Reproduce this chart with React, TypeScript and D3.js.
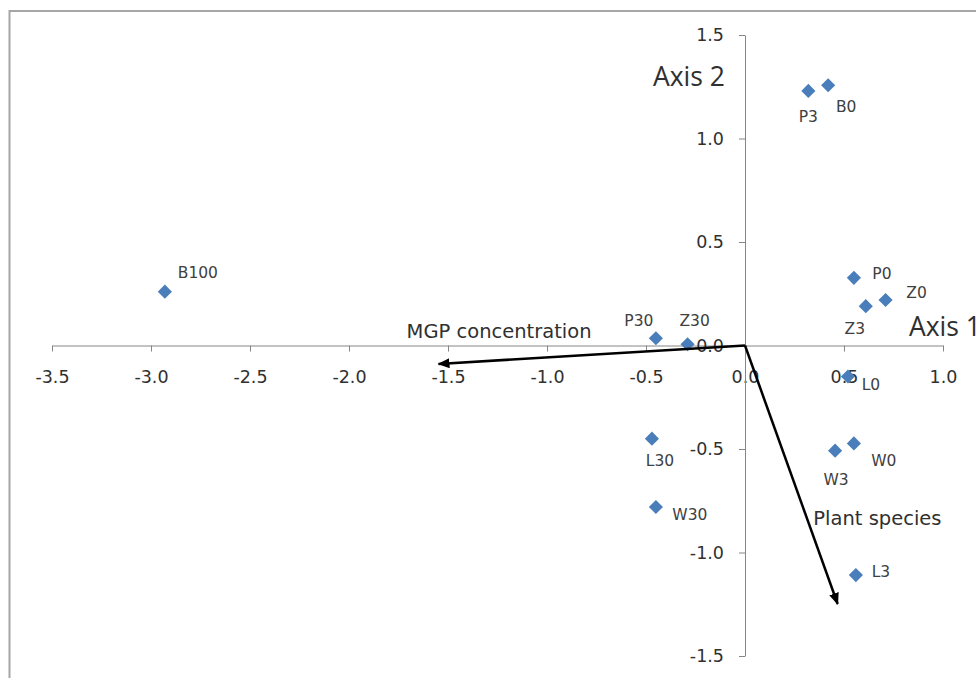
import React, { useEffect, useRef } from 'react';
import * as d3 from 'd3';

// ordination scores
const sampleNames = ['P3', 'B0', 'P0', 'Z0', 'Z3', 'P30', 'Z30', 'L0', 'L30', 'W30', 'W3', 'W0', 'L3', 'B100'];
const axis1Scores = [0.32, 0.42, 0.55, 0.71, 0.61, -0.45, -0.29, 0.52, -0.47, -0.45, 0.455, 0.55, 0.56, -2.93];
const axis2Scores = [1.23, 1.257, 0.327, 0.22, 0.19, 0.035, 0.006, -0.15, -0.45, -0.78, -0.508, -0.473, -1.109, 0.26];

// label offsets in px (label centre relative to marker)
const labelDx = [0, 18, 28, 31, -11, -17, 7, 23, 8, 34, 1, 30, 25, 33];
const labelDy = [26, 21, -4, -8, 22, -18, -24, 8, 22, 7, 29, 17, -4, -19];

// environmental vectors
const vectorNames = ['MGP concentration', 'Plant species'];
const vectorX = [-1.548, 0.468];
const vectorY = [-0.089, -1.249];

const xTicks = [-3.5, -3.0, -2.5, -2.0, -1.5, -1.0, -0.5, 0.0, 0.5, 1.0];
const yTicks = [-1.5, -1.0, -0.5, 0.0, 0.5, 1.0, 1.5];

const width = 976;
const height = 678;

function App() {
  const ref = useRef<SVGSVGElement>(null);

  useEffect(() => {
    const svg = d3.select(ref.current);
    svg.selectAll('*').remove();

    const x = d3.scaleLinear().domain([-3.5, 1.0]).range([52, 943]);
    const y = d3.scaleLinear().domain([-1.5, 1.5]).range([656, 35]);

    svg.append('rect')
      .attr('x', 9.5)
      .attr('y', 11)
      .attr('width', 1100)
      .attr('height', 1000)
      .attr('fill', '#fff')
      .attr('stroke', '#a6a6a6')
      .attr('stroke-width', 2);

    // plain hyphen for negatives, like the original
    const fmt = (d: d3.NumberValue) => (+d).toFixed(1);

    // x axis through the origin
    svg.append('g')
      .attr('transform', `translate(0,${y(0)})`)
      .call(d3.axisBottom(x).tickValues(xTicks).tickFormat(fmt).tickSize(6).tickPadding(19).tickSizeOuter(0))
      .call(g => g.select('.domain').attr('stroke', '#868686'))
      .call(g => g.selectAll('.tick line').attr('stroke', '#868686'))
      .call(g => g.selectAll('.tick text')
        .attr('fill', '#303030')
        .style('font-family', '"DejaVu Sans", Verdana, sans-serif')
        .style('font-size', '17.5px'));

    // y axis through the origin
    svg.append('g')
      .attr('transform', `translate(${x(0)},0)`)
      .call(d3.axisLeft(y).tickValues(yTicks).tickFormat(fmt).tickSize(6).tickPadding(15).tickSizeOuter(0))
      .call(g => g.select('.domain').attr('stroke', '#868686'))
      .call(g => g.selectAll('.tick line').attr('stroke', '#868686'))
      .call(g => g.selectAll('.tick text')
        .attr('fill', '#303030')
        .style('font-family', '"DejaVu Sans", Verdana, sans-serif')
        .style('font-size', '17.5px'));

    const pts = sampleNames.map((name, i) => ({ name, a1: axis1Scores[i], a2: axis2Scores[i], dx: labelDx[i], dy: labelDy[i] }));

    const diamond = d3.symbol().type(d3.symbolSquare).size(100)();

    svg.append('g')
      .selectAll('path')
      .data(pts)
      .join('path')
      .attr('d', diamond)
      .attr('transform', d => `translate(${x(d.a1)},${y(d.a2)}) rotate(45)`)
      .attr('fill', '#4a7ebb');

    svg.append('g')
      .selectAll('text')
      .data(pts)
      .join('text')
      .attr('x', d => x(d.a1) + d.dx)
      .attr('y', d => y(d.a2) + d.dy)
      .attr('dy', '0.36em')
      .attr('text-anchor', 'middle')
      .attr('fill', '#404040')
      .style('font-family', '"DejaVu Sans", Verdana, sans-serif')
      .style('font-size', '15.5px')
      .text(d => d.name);

    // arrows
    svg.append('defs')
      .append('marker')
      .attr('id', 'arrowhead')
      .attr('markerUnits', 'userSpaceOnUse')
      .attr('viewBox', '0 0 12 10')
      .attr('refX', 11)
      .attr('refY', 5)
      .attr('markerWidth', 12)
      .attr('markerHeight', 10)
      .attr('orient', 'auto')
      .append('path')
      .attr('d', 'M0,0 L12,5 L0,10 Z')
      .attr('fill', '#000');

    const vecs = vectorNames.map((name, i) => ({ name, vx: vectorX[i], vy: vectorY[i] }));

    svg.append('g')
      .selectAll('line')
      .data(vecs)
      .join('line')
      .attr('x1', x(0))
      .attr('y1', y(0))
      .attr('x2', d => x(d.vx))
      .attr('y2', d => y(d.vy))
      .attr('stroke', '#000')
      .attr('stroke-width', 2.5)
      .attr('marker-end', 'url(#arrowhead)');

    const annotate = (txt: string, px: number, py: number, size: number, family: string, anchor = 'start') =>
      svg.append('text')
        .attr('x', px)
        .attr('y', py)
        .attr('text-anchor', anchor)
        .attr('fill', '#303030')
        .style('font-family', family)
        .style('font-size', `${size}px`)
        .text(txt);

    annotate(vectorNames[0], x(-1.709), y(0.037), 19.5, '"DejaVu Sans", Verdana, sans-serif');
    annotate(vectorNames[1], x(0.345), y(-0.869), 19.5, '"DejaVu Sans", Verdana, sans-serif');
    annotate('Axis 2', x(-0.283), y(1.254), 26.5, '"Open Sans", sans-serif', 'middle');
    // clipped at the right edge, as in the original
    annotate('Axis 1', x(0.828), y(0.048), 26.5, '"Open Sans", sans-serif');
  }, []);

  return (
    <div>
      <svg ref={ref} width={width} height={height} style={{ position: 'absolute', left: 0, top: 0 }} />
    </div>
  );
}

export default App;
